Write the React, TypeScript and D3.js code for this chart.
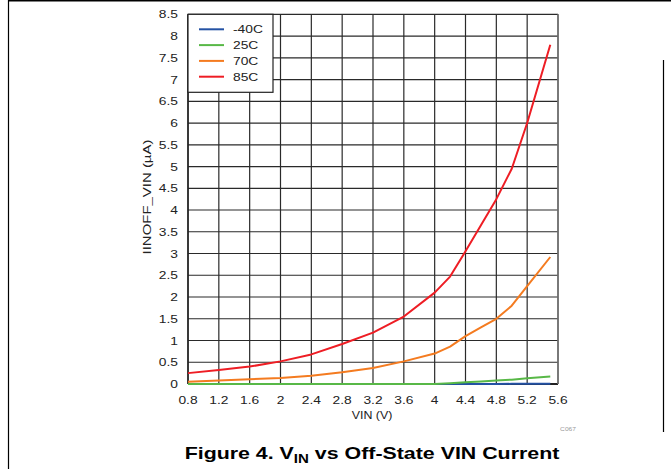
import React from "react";
import * as d3 from "d3";

const xTicks = [0.8, 1.2, 1.6, 2, 2.4, 2.8, 3.2, 3.6, 4, 4.4, 4.8, 5.2, 5.6];
const yTicks = [0, 0.5, 1, 1.5, 2, 2.5, 3, 3.5, 4, 4.5, 5, 5.5, 6, 6.5, 7, 7.5, 8, 8.5];

const vin = [0.8, 1.2, 1.6, 2.0, 2.4, 2.8, 3.2, 3.6, 4.0, 4.2, 4.4, 4.6, 4.8, 5.0, 5.2, 5.5];
const iM40 = [0, 0, 0, 0, 0, 0, 0, 0, 0, 0, 0, 0, 0.002, 0.003, 0.004, 0.005];
const i25 = [0, 0, 0, 0, 0, 0, 0, 0, 0, 0.02, 0.04, 0.06, 0.08, 0.1, 0.13, 0.17];
const i70 = [0.05, 0.08, 0.11, 0.14, 0.19, 0.27, 0.37, 0.52, 0.7, 0.86, 1.1, 1.3, 1.5, 1.8, 2.25, 2.92];
const i85 = [0.25, 0.32, 0.4, 0.52, 0.68, 0.92, 1.18, 1.55, 2.1, 2.47, 3.05, 3.65, 4.25, 4.95, 6.0, 7.8];

const seriesNames = ["-40C", "25C", "70C", "85C"];
const seriesColors = ["#2452a4", "#58b847", "#f47b20", "#ee1d24"];
const seriesValues = [iM40, i25, i70, i85];

const font = "'Liberation Sans', Arial, sans-serif";

function T(props: {
  x: number; y: number; anchor?: string; size?: number; sx?: number; rot?: number;
  fill?: string; weight?: string; children: React.ReactNode;
}) {
  const { x, y, anchor = "middle", size = 11.5, sx = 1.2, rot = 0, fill = "#222", weight = "normal", children } = props;
  return (
    <text
      transform={`translate(${x},${y}) rotate(${rot}) scale(${sx},1)`}
      textAnchor={anchor}
      fontFamily={font}
      fontSize={size}
      fontWeight={weight}
      fill={fill}
    >
      {children}
    </text>
  );
}

export default function App() {
  const W = 671, H = 469;
  const x = d3.scaleLinear().domain([0.8, 5.6]).range([188, 558]);
  const y = d3.scaleLinear().domain([0, 8.5]).range([384, 14.3]);
  const line = d3.line<[number, number]>().x(d => x(d[0])).y(d => y(d[1]));
  const fmt = (v: number) => String(v);

  return (
    <svg width={W} height={H} style={{ position: "absolute", left: 0, top: 0, background: "#fff" }}>
      <rect x={0} y={0} width={W} height={H} fill="#fff" />
      {/* page frame */}
      <line x1={8.5} x2={8.5} y1={0} y2={H} stroke="#000" strokeWidth={1.2} />
      <line x1={8} x2={W} y1={0.8} y2={0.8} stroke="#000" strokeWidth={1.5} />
      <line x1={663.5} x2={663.5} y1={60} y2={432} stroke="#000" strokeWidth={1.2} />

      {/* grid */}
      {xTicks.map((t, i) => (
        <line key={"gx" + i} x1={x(t)} x2={x(t)} y1={y(8.5)} y2={y(0)} stroke="#2a2a2a" strokeWidth={1.2} />
      ))}
      {yTicks.map((t, i) => (
        <line key={"gy" + i} x1={x(0.8)} x2={x(5.6)} y1={y(t)} y2={y(t)} stroke="#2a2a2a" strokeWidth={1.2} />
      ))}
      <line x1={x(0.8)} x2={x(5.6)} y1={y(0)} y2={y(0)} stroke="#222" strokeWidth={2} />
      <line x1={x(0.8)} x2={x(0.8)} y1={y(0)} y2={y(8.5)} stroke="#222" strokeWidth={1.5} />
      <line x1={x(5.6)} x2={x(5.6)} y1={y(0)} y2={y(8.5)} stroke="#777" strokeWidth={1.5} />

      {/* series */}
      {seriesValues.map((vals, si) => (
        <path
          key={"s" + si}
          d={line(vin.map((v, i) => [v, vals[i]] as [number, number])) || ""}
          fill="none"
          stroke={seriesColors[si]}
          strokeWidth={2}
          strokeLinejoin="round"
        />
      ))}

      {/* tick labels */}
      {yTicks.map((t, i) => (
        <T key={"yl" + i} x={178} y={y(t) + 4} anchor="end">{fmt(t)}</T>
      ))}
      {xTicks.map((t, i) => (
        <T key={"xl" + i} x={x(t)} y={404}>{fmt(t)}</T>
      ))}
      <T x={372} y={419} sx={1.08}>VIN (V)</T>
      <T x={151} y={197} rot={-90} sx={1.3}>IINOFF_VIN (µA)</T>
      <T x={568} y={431} size={5.5} sx={1.2} fill="#999">C067</T>

      {/* legend */}
      <rect x={188} y={14.3} width={85} height={78} fill="#fff" stroke="#222" strokeWidth={1.2} />
      {seriesNames.map((n, i) => (
        <g key={"lg" + i}>
          <line x1={199} x2={224} y1={29.3 + i * 15.8} y2={29.3 + i * 15.8} stroke={seriesColors[i]} strokeWidth={2} />
          <T x={233} y={29.3 + i * 15.8 + 4} anchor="start">{n}</T>
        </g>
      ))}

      {/* caption */}
      <T x={372} y={459} size={17} sx={1.257} weight="bold" fill="#000">
        Figure 4. V<tspan fontSize={12} dy={4}>IN</tspan><tspan dy={-4}> vs Off-State VIN Current</tspan>
      </T>
    </svg>
  );
}
